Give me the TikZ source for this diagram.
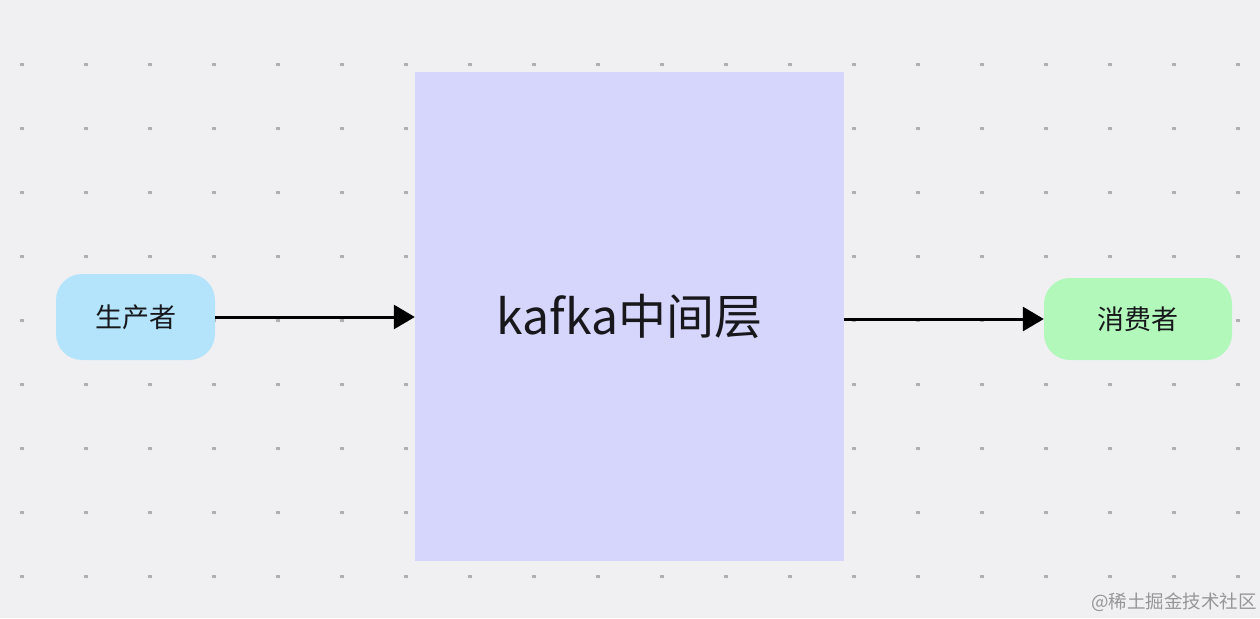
\documentclass[tikz,border=0pt]{standalone}
\usepackage{fontspec}
\setmainfont{Noto Sans CJK SC}
\usetikzlibrary{arrows.meta}
\definecolor{canvasGray}{RGB}{240,240,243}
\definecolor{dotGray}{RGB}{176,176,178}
\definecolor{prodBlue}{RGB}{180,228,252}
\definecolor{consGreen}{RGB}{177,248,186}
\definecolor{midViolet}{RGB}{214,214,252}
\definecolor{inkDark}{RGB}{24,24,28}

\begin{document}
\begin{tikzpicture}
[x=1pt,y=-1pt,%
  gridDot/.style={fill=dotGray},%
  endBox/.style={shape=rectangle,rounded corners=26pt,inner sep=0pt,minimum height=86pt,text=inkDark},%
  midBox/.style={shape=rectangle,fill=midViolet,inner sep=0pt,minimum width=429pt,minimum height=489pt,text=inkDark},%
  flowArrow/.style={-{Triangle[length=21pt,width=24pt]},line width=3pt,black}]
\useasboundingbox[fill=canvasGray] (0,0) rectangle (1260,618);
%% dotted canvas
\foreach \gx in {0,...,19}
{
  \foreach \gy in {0,...,8}
  {
    \fill[gridDot] (20.3+64*\gx,63+64*\gy) rectangle +(3.4,3.4);
  }
}
%% boxes
\node (kafka) at (629.5,316.5) [midBox] {\fontsize{48}{56}\selectfont kafka中间层};
\node (prod) at (135.5,317) [endBox,fill=prodBlue,minimum width=159pt] {\fontsize{27}{32}\selectfont 生产者};
\node (cons) at (1138,319) [endBox,fill=consGreen,minimum width=188pt,minimum height=82pt] {\fontsize{27}{32}\selectfont 消费者};
%% arrows
\draw[flowArrow] (prod.east) -- (kafka.west |- prod.east);
\draw[flowArrow] (kafka.east |- cons.west) -- (cons.west);
%% watermark
\node (mark) at (1174,602) [text=dotGray!85!black] {\fontsize{18.5}{22}\selectfont @稀土掘金技术社区};
\end{tikzpicture}
\end{document}
